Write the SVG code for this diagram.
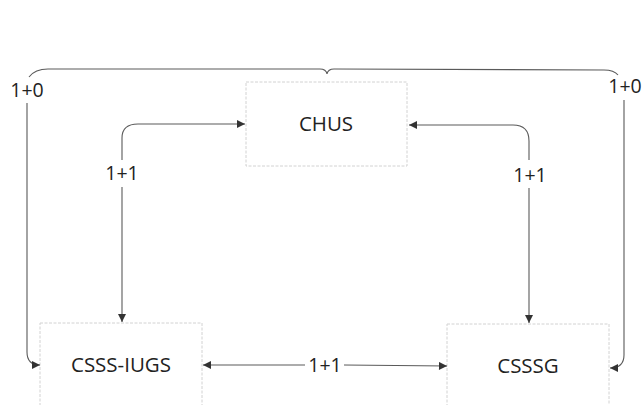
<svg xmlns="http://www.w3.org/2000/svg" width="643" height="405" viewBox="0 0 643 405">
<style>
.box{fill:#fff;stroke:#d2d2d2;stroke-width:1;stroke-dasharray:3 1.5}
.ln{fill:none;stroke:#5a5a5a;stroke-width:1.1}
.t{font-family:"Open Sans","Liberation Sans",Arial,sans-serif;font-size:20.5px;fill:#222;text-anchor:middle}
.lb{font-family:"Open Sans","Liberation Sans",Arial,sans-serif;font-size:19.5px;fill:#222;text-anchor:middle}
</style>
<defs>
<marker id="ah" viewBox="0 0 10 10" refX="10" refY="5" markerWidth="9" markerHeight="8" markerUnits="userSpaceOnUse" orient="auto">
<path d="M0,0 L10,5 L0,10 Z" fill="#333"/>
</marker>
</defs>
<rect width="643" height="405" fill="#fff"/>
<g id="chus"><rect class="box" x="246" y="82" width="161" height="84"/><text class="t" x="326" y="131">CHUS</text></g>
<g id="csss-iugs"><rect class="box" x="40" y="323" width="162" height="100"/><text class="t" x="121" y="372">CSSS-IUGS</text></g>
<g id="csssg"><rect class="box" x="447" y="324" width="162" height="100"/><text class="t" x="528" y="373">CSSSG</text></g>
<g id="connectors">
<path class="ln" d="M29,77 Q35,69 48,69 L320,69 Q326,69 327,74 Q328,69 334,69 L604,70 Q614,70 618,75"/>
<path class="ln" d="M27,103 L27,352 Q27,365 40,365" marker-end="url(#ah)"/>
<path class="ln" d="M624,100 L624,355 Q624,368 610,368" marker-end="url(#ah)"/>
<path class="ln" d="M122,160 L122,138 Q122,124 138,124 L245,124" marker-end="url(#ah)"/>
<path class="ln" d="M122,187 L122,322" marker-end="url(#ah)"/>
<path class="ln" d="M529,160 L529,141 Q529,125 513,125 L409,125" marker-end="url(#ah)"/>
<path class="ln" d="M529,188 L529,323" marker-end="url(#ah)"/>
<path class="ln" d="M305,365 L203,365" marker-end="url(#ah)"/>
<path class="ln" d="M344,365 L447,366" marker-end="url(#ah)"/>
<text class="lb" x="27" y="97">1+0</text>
<text class="lb" x="625" y="93">1+0</text>
<text class="lb" x="122" y="180">1+1</text>
<text class="lb" x="530" y="182">1+1</text>
<text class="lb" x="325" y="372">1+1</text>
</g>
</svg>
